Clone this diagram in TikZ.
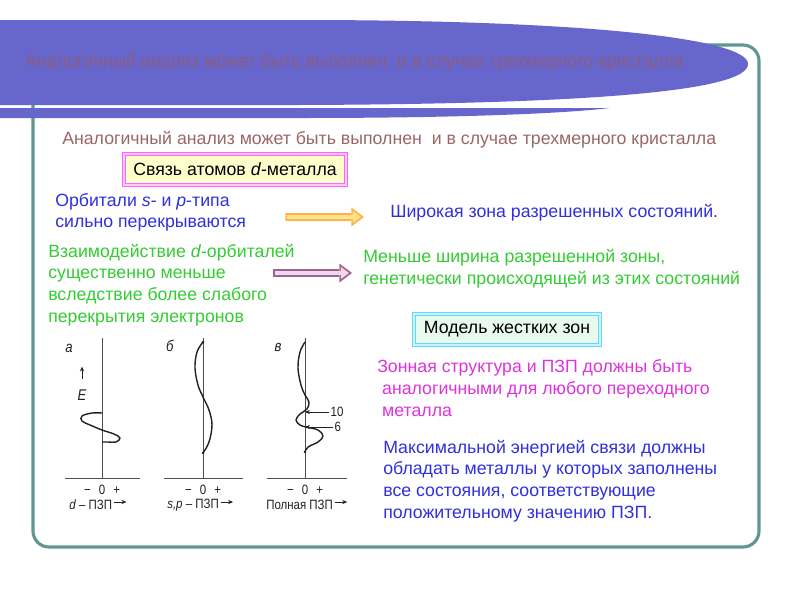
\documentclass[tikz,border=0pt]{standalone}
\usepackage{fontspec}
\setmainfont{Liberation Sans}
\newfontfamily\bannerfont[FakeStretch=0.94]{Liberation Sans}
\newfontfamily\plotfont[FakeStretch=0.85]{Liberation Sans}
\usepackage{xcolor}
\definecolor{bannerblue}{HTML}{6666CC}
\definecolor{bannerink}{HTML}{8C5C80}
\definecolor{frameteal}{HTML}{5F9691}
\definecolor{subink}{HTML}{9A6666}
\definecolor{ink}{HTML}{3030DD}
\definecolor{leaf}{HTML}{33CC33}
\definecolor{violet}{HTML}{DD33DD}
\definecolor{boxpink}{HTML}{FF66FF}
\definecolor{boxpinklt}{HTML}{FFC8FF}
\definecolor{boxyellow}{HTML}{FFFFCC}
\definecolor{boxcyan}{HTML}{66D8FF}
\definecolor{boxcyanlt}{HTML}{C8F4FF}
\definecolor{boxmint}{HTML}{E8FAEE}
\definecolor{arrorange}{HTML}{FFB24A}
\definecolor{arrorangelt}{HTML}{FFE28C}
\definecolor{arrmauve}{HTML}{9A6690}
\definecolor{arrmauvelt}{HTML}{F4D6EC}
\definecolor{sketch}{HTML}{222222}
\usetikzlibrary{arrows.meta,calc}
\newcommand{\txtsize}{\fontsize{12.6}{15.4}\selectfont}
\newcommand{\plotsize}{\plotfont\fontsize{9.6}{11}\selectfont}

\begin{document}
\begin{tikzpicture}[
  x=0.025cm, y=-0.025cm,
  frame/.style={draw=frameteal, line width=2.2pt, rounded corners=0.4cm},
  txt/.style={anchor=west, inner sep=0pt, align=left, font=\txtsize},
  bondbox/.style={
    draw=boxpink, double=boxpinklt, double distance=1.2pt, line width=0.9pt,
    fill=boxyellow, minimum width=5.55cm, minimum height=0.77cm,
    inner sep=0pt, font=\txtsize
  },
  modelbox/.style={
    draw=boxcyan, double=boxcyanlt, double distance=1.2pt, line width=0.9pt,
    fill=boxmint, minimum width=4.65cm, minimum height=0.77cm,
    inner sep=0pt, font=\txtsize
  },
  fatarr/.style 2 args={
    draw=#1, line width=5.5pt, -{Triangle[length=9pt, width=13.5pt, line width=0pt]},
    postaction={draw=#2, line width=2.6pt, shorten <=1.2pt, shorten >=2.2pt,
      -{Triangle[length=5.8pt, width=8.8pt, line width=0pt]}}
  },
  axis/.style={draw=sketch!80, line width=0.6pt},
  curve/.style={draw=sketch, line width=1pt, line join=round},
  plotlbl/.style={inner sep=0pt, font=\plotsize, text=sketch},
  lead/.style={draw=sketch, line width=0.6pt, -{Stealth[length=3.5pt, width=3pt]}}
]
\useasboundingbox[fill=white] (0,0) rectangle (800,600);

% Frame and title banner
\draw[frame] (33,45) rectangle (759,547);
\fill[bannerblue] (0,20) -- (300,20) .. controls (580,20) and (748,38) .. (748,64)
  .. controls (748,92) and (580,104) .. (300,105) -- (0,105) -- cycle;
\fill[bannerblue] (0,108) -- (610,108) .. controls (560,114) and (450,118) .. (300,118) -- (0,118) -- cycle;
\node[anchor=west, inner sep=0pt, font=\bannerfont\fontsize{13.5}{16}\selectfont, text=bannerink] (ttl) at (25,62)
  {Аналогичный анализ может быть выполнен \ и в случае трехмерного кристалла};

% Text blocks
\node[txt, text=subink] (sub) at (62,140) {Аналогичный анализ может быть выполнен \ и в случае трехмерного кристалла};
\node[bondbox] (bond) at (235,169.5) {Связь атомов \textit{d}-металла};
\node[txt, text=ink] (sp) at (55,212.5) {Орбитали \textit{s}- и \textit{p}-типа\\сильно перекрываются};
\node[txt, text=ink] (wide) at (390,213) {Широкая зона разрешенных состояний.};
\node[txt, text=leaf] (dint) at (48,285) {Взаимодействие \textit{d}-орбиталей\\существенно меньше\\вследствие более слабого\\перекрытия электронов};
\node[txt, text=leaf] (narrow) at (363,269) {Меньше ширина разрешенной зоны,\\генетически происходящей из этих состояний};
\node[modelbox] (model) at (507,329.5) {Модель жестких зон};
\node[txt, text=violet] (rigid) at (377,388) {Зонная структура и ПЗП должны быть\\\ аналогичными для любого переходного\\\ металла};
\node[txt, text=ink] (maxe) at (383,481) {Максимальной энергией связи должны\\обладать металлы у которых заполнены\\все состояния, соответствующие\\положительному значению ПЗП.};

% Block arrows
\draw[fatarr={arrorange}{arrorangelt}] ($(sp.east)+(39,4.5)$) -- ($(wide.west)+(-26,4)$);
\draw[fatarr={arrmauve}{arrmauvelt}] ($(dint.east)+(-22,-12)$) -- ($(narrow.west)+(-11,4)$);

% Density of states sketches
\foreach \x/\l/\r in {102/65/140, 203/164/243, 305/267/347} {
  \draw[axis] (\x,338) -- (\x,478);
  \draw[axis] (\l,478) -- (\r,478);
  \node[plotlbl] at (\x,490) {−\hspace{0.6em}0\hspace{0.6em}+};
}
\coordinate (vc) at (305,338);

\node[plotlbl, font=\plotsize\fontsize{11}{12}\selectfont] (la) at (69,348) {\textit{а}};
\node[plotlbl, font=\plotsize\fontsize{11}{12}\selectfont] (lb) at (170,346) {\textit{б}};
\node[plotlbl, font=\plotsize\fontsize{11}{12}\selectfont] (lc) at (278,347) {\textit{в}};
\node[plotlbl, font=\plotsize\fontsize{11}{12}\selectfont] (ee) at (82,395) {\textit{E}};
\draw[lead] ([yshift=0.27cm]ee.north) -- ++(0,-12);

\draw[curve] plot[smooth, tension=0.6] coordinates {(102,413) (92,413) (82,416) (82,421) (90,425)
  (102,430) (114,434) (120,438) (116,442) (108,442) (102,442)};
\draw[curve] plot[smooth, tension=0.6] coordinates {(203,342) (197,352) (195,368) (198,385) (203,397)
  (209,410) (212,425) (209,442) (203,453)};
\draw[curve] plot[smooth, tension=0.6] coordinates {(305,342) (300,352) (298,368) (301,385) (305,395)
  (309,402) (307,409) (300,414) (296,420) (300,425) (306,427) (318,430) (323,436) (318,442)
  (308,447) (305,452)};
\foreach \p in {(203,342), (203,453), (305,452)}
  \fill[sketch] \p circle (1.4);

\node[plotlbl, anchor=west, inner sep=1pt] (n10) at (329,412) {10};
\node[plotlbl, anchor=west, inner sep=1pt] (n6) at (333,427) {6};
\draw[lead] (n10.west) -- (n10.west -| vc);
\draw[lead] (n6.west) -- (n6.west -| vc);

\node[plotlbl, anchor=west] (dd) at (69,505) {\textit{d} – ПЗП};
\node[plotlbl, anchor=west] (ds) at (167,505) {\textit{s,p} – ПЗП};
\node[plotlbl, anchor=west] (dt) at (266,505) {Полная ПЗП};
\foreach \n in {dd, ds, dt}
  \draw[lead] ($(\n.east)+(2,-3)$) -- ++(12,0);
\end{tikzpicture}
\end{document}
